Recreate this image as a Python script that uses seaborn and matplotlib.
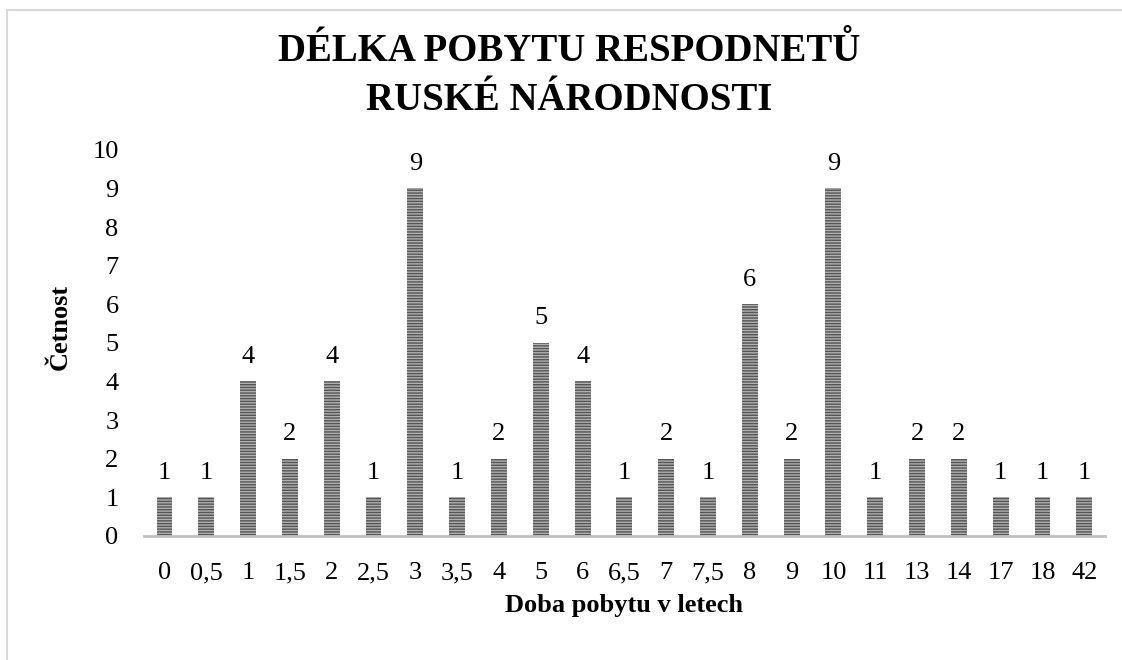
import pandas as pd
import matplotlib.pyplot as plt
import seaborn as sns
from matplotlib.patches import Rectangle

# data
doba = ['0', '0,5', '1', '1,5', '2', '2,5', '3', '3,5', '4', '5', '6', '6,5',
        '7', '7,5', '8', '9', '10', '11', '13', '14', '17', '18', '42']
cetnost = [1, 1, 4, 2, 4, 1, 9, 1, 2, 5, 4, 1, 2, 1, 6, 2, 9, 1, 2, 2, 1, 1, 1]

df = pd.DataFrame({'doba': doba, 'cetnost': cetnost})

sns.set_style('white')
plt.rcParams['font.family'] = ['Liberation Serif', 'DejaVu Serif']
plt.rcParams['text.color'] = 'black'
plt.rcParams['xtick.color'] = 'black'
plt.rcParams['ytick.color'] = 'black'
plt.rcParams['axes.labelcolor'] = 'black'
plt.rcParams['hatch.color'] = '#555555'
plt.rcParams['hatch.linewidth'] = 1.0

fig = plt.figure(figsize=(11.22, 6.6), dpi=100)
ax = fig.add_axes([0.128, 0.188, 0.857, 0.585])

sns.barplot(data=df, x='doba', y='cetnost', order=doba, color='#b0b0b0',
            width=0.38, linewidth=0, ax=ax)
for bar in ax.patches:
    bar.set_hatch('------')
    bar.set_edgecolor('#555555')
    bar.set_linewidth(0)

# popisky hodnot
for i, v in enumerate(cetnost):
    ax.text(i, v + 0.35, str(v), ha='center', va='bottom', fontsize=19)

ax.set_ylim(0, 10)
ax.set_yticks(range(0, 11))
ax.set_xlim(-0.5, len(doba) - 0.5)
ax.tick_params(axis='both', labelsize=19, length=0)
ax.tick_params(axis='x', pad=19)
ax.tick_params(axis='y', pad=18)
for s in ['top', 'right', 'left']:
    ax.spines[s].set_visible(False)
ax.spines['bottom'].set_color('#bfbfbf')
ax.spines['bottom'].set_linewidth(2)

ax.set_xlabel('Doba pobytu v letech', fontsize=19, fontweight='bold', labelpad=7)
ax.set_ylabel('Četnost', fontsize=19, fontweight='bold')
ax.yaxis.set_label_coords(-0.075, 0.54)

fig.text(0.507, 0.885, 'DÉLKA POBYTU RESPODNETŮ\nRUSKÉ NÁRODNOSTI',
         ha='center', va='center', fontsize=28, fontweight='bold',
         linespacing=1.45)

# rámeček grafu
fig.patches.append(Rectangle((0.006, -0.05), 1.05, 1.035, transform=fig.transFigure,
                             fill=False, edgecolor='#d9d9d9', linewidth=1.5))

plt.savefig('out.png', dpi=100)
